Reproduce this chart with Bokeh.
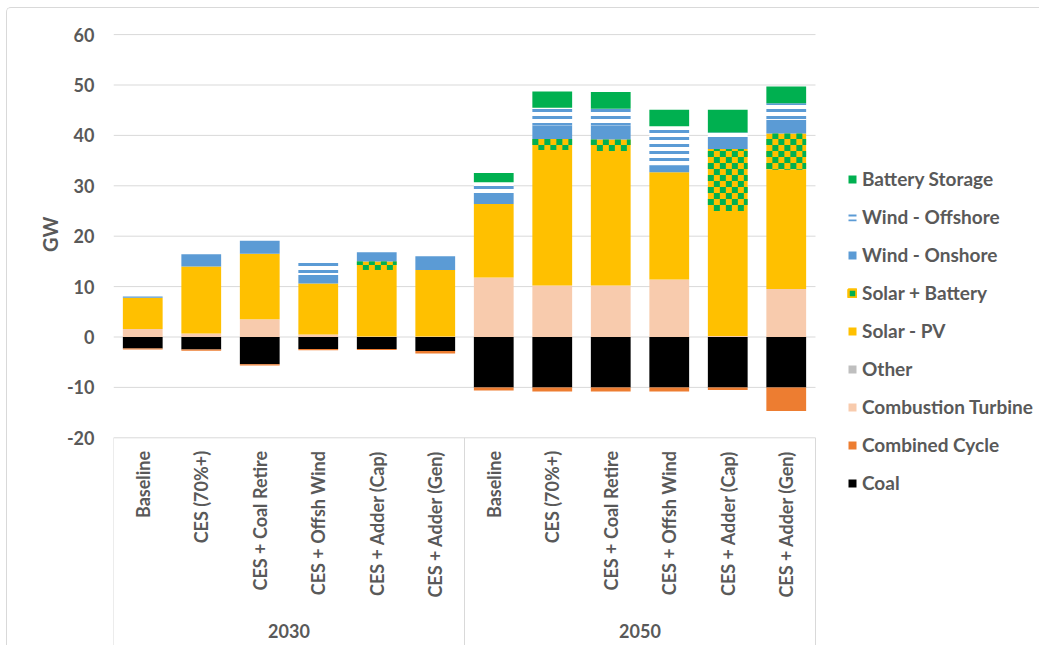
import numpy as np
from math import pi, floor, ceil
from bokeh.plotting import figure
from bokeh.models import (ColumnDataSource, Range1d, FixedTicker, Legend, LegendItem, Title)
from bokeh.core.properties import value
from bokeh.embed import file_html
from bokeh.resources import INLINE

# ---------------- data ----------------
years = ["2030", "2050"]
scenarios = ["Baseline", "CES (70%+)", "CES + Coal Retire", "CES + Offsh Wind",
             "CES + Adder (Cap)", "CES + Adder (Gen)"]

coal     = [-2.3, -2.5, -5.4, -2.4, -2.4, -2.8, -10.0, -10.0, -10.0, -10.0, -10.0, -10.0]
combined = [-0.2, -0.25, -0.25, -0.25, -0.2, -0.45, -0.6, -0.8, -0.8, -0.8, -0.5, -4.7]
combust  = [1.6, 0.7, 3.5, 0.5, 0.1, 0.1, 11.8, 10.2, 10.2, 11.4, 0.2, 9.5]
other    = [0, 0, 0, 0, 0, 0, 0, 0, 0, 0, 0, 0]
solar_pv = [6.2, 13.3, 13.0, 10.1, 13.2, 13.2, 14.6, 26.9, 26.7, 21.3, 24.8, 23.7]
solar_bat= [0, 0, 0, 0, 1.7, 0, 0, 2.2, 2.3, 0, 12.3, 7.2]
onshore  = [0.25, 2.4, 2.6, 1.7, 1.8, 2.7, 1.95, 2.7, 2.8, 1.3, 1.8, 2.7]
offshore = [0, 0, 0, 2.4, 0, 0, 2.35, 3.5, 3.3, 7.8, 1.5, 3.3]
battery  = [0, 0, 0, 0, 0, 0, 1.85, 3.2, 3.3, 3.3, 4.5, 3.3]

y_ticks = [-20, -10, 0, 10, 20, 30, 40, 50, 60]

# ---------------- layout ----------------
OX, OY = 7, 8                      # page offset of the canvas (margin + border)
W, H = 1040 - OX, 646 - OY
LEFT, TOP = 113 - OX, 20 - OY
PLOT_W = 702                       # width of the bar area in px
n_groups = len(years)
n_per = len(scenarios)
n = n_groups * n_per
PPX = PLOT_W / n                   # px per category
x_end = (W - LEFT) / PPX
PPU = 5.04                         # px per GW
y_end = 60 + (34.1 - 20) / PPU
y_start = -20 - (646 - 437.3) / PPU

GREY = "#595959"
GRID = "#D9D9D9"
FONT = "Lato"
GREEN = "#00B050"
YELLOW = "#FFC000"
BLUE = "#5B9BD5"

p = figure(width=W, height=H, output_backend="svg", toolbar_location=None,
           x_range=Range1d(0, x_end), y_range=Range1d(y_start, y_end),
           x_axis_location=None, min_border_left=LEFT, min_border_right=0,
           min_border_top=TOP, min_border_bottom=0,
           styles={"margin-left": "6px", "margin-top": "7px",
                   "border-left": "1px solid #D9D9D9", "border-top": "1px solid #D9D9D9",
                   "border-top-left-radius": "5px"})
p.outline_line_color = None
p.xgrid.visible = False
p.ygrid.visible = False

ax = p.yaxis[0]
ax.ticker = FixedTicker(ticks=y_ticks)
ax.major_label_overrides = {t: str(t) for t in y_ticks}
ax.axis_line_color = None
ax.major_tick_line_color = None
ax.minor_tick_line_color = None
ax.major_tick_out = 0
ax.major_tick_in = 0
ax.major_label_standoff = 19
ax.major_label_text_font = FONT
ax.major_label_text_font_style = "bold"
ax.major_label_text_font_size = "18px"
ax.major_label_text_color = GREY

# y axis title placed along the left side
p.add_layout(Title(text="GW", align="right", offset=196, text_font=FONT,
                   text_font_style="bold", text_font_size="20px", text_color=GREY,
                   standoff=4), "left")

# gridlines within the bar area
p.segment(x0=0, x1=n, y0=y_ticks, y1=y_ticks, line_color=GRID, line_width=1)
# category separators below the axis
seps = [g * n_per for g in range(n_groups + 1)]
p.segment(x0=seps, x1=seps, y0=-20, y1=y_start, line_color=GRID, line_width=1)

x = np.arange(n) + 0.5
BW = 0.68

renderers = {}

# negative stack
base = np.zeros(n)
for vals, name, col in [(coal, "Coal", "#000000"), (combined, "Combined Cycle", "#ED7D31")]:
    v = np.array(vals, dtype=float)
    src = ColumnDataSource(dict(x=x, top=base, bottom=base + v))
    renderers[name] = p.vbar(x="x", top="top", bottom="bottom", width=BW, source=src,
                             fill_color=col, line_color=None)
    base = base + v

# positive stack
pos = [
    (combust, "Combustion Turbine", dict(fill_color="#F8CBAD")),
    (other, "Other", dict(fill_color="#BFBFBF")),
    (solar_pv, "Solar - PV", dict(fill_color=YELLOW)),
    (solar_bat, "Solar + Battery", dict(fill_color=YELLOW)),
    (onshore, "Wind - Onshore", dict(fill_color=BLUE)),
    (offshore, "Wind - Offshore", dict(fill_color="#FFFFFF", hatch_pattern="horizontal_line",
                                       hatch_scale=7, hatch_weight=3, hatch_color=BLUE)),
    (battery, "Battery Storage", dict(fill_color=GREEN)),
]
base = np.zeros(n)
bounds = {}
for vals, name, style in pos:
    v = np.array(vals, dtype=float)
    src = ColumnDataSource(dict(x=x, bottom=base, top=base + v))
    renderers[name] = p.vbar(x="x", top="top", bottom="bottom", width=BW, source=src,
                             line_color=None, **style)
    bounds[name] = (base.copy(), base + v)
    base = base + v

# checker pattern of the "Solar + Battery" segments (6 px cells)
cw, ch = 6 / PPX, 6 / PPU
sb_bot, sb_top = bounds["Solar + Battery"]
cl, cr, cb, ct_ = [], [], [], []
for i in range(n):
    b, t = sb_bot[i], sb_top[i]
    if t - b <= 0:
        continue
    left, right = x[i] - BW / 2, x[i] + BW / 2
    ncol = int(ceil((right - left) / cw))
    for j in range(int(floor(b / ch)), int(ceil(t / ch))):
        for k in range(ncol):
            if (j + k) % 2:
                continue
            l0, r0 = left + k * cw, min(left + (k + 1) * cw, right)
            b0, t0 = max(j * ch, b), min((j + 1) * ch, t)
            if t0 > b0 and r0 > l0:
                cl.append(l0); cr.append(r0); cb.append(b0); ct_.append(t0)
p.quad(left=cl, right=cr, bottom=cb, top=ct_, fill_color=GREEN, line_color=None)

# legend proxies (swatches only)
sb_proxy = p.vbar(x=[0.5], top=[0], bottom=[0], width=0.0, fill_color=GREEN,
                  line_color=YELLOW, line_width=2.5)
off_proxy = p.vbar(x=[0.5], top=[0], bottom=[0], width=0.0, fill_color="#FFFFFF",
                   line_color=None, hatch_pattern="horizontal_line", hatch_scale=5,
                   hatch_weight=2, hatch_color=BLUE)

# category labels
labels = scenarios * n_groups
lab_src = ColumnDataSource(dict(x=x, y=np.full(n, -22.6), t=labels))
p.text(x="x", y="y", text="t", source=lab_src, angle=pi / 2, text_align="right",
       text_baseline="middle", text_font=value(FONT), text_font_style="bold",
       text_font_size="18px", text_color=GREY)

yr_src = ColumnDataSource(dict(x=[(g + 0.5) * n_per for g in range(n_groups)],
                               y=[-58.4] * n_groups, t=years))
p.text(x="x", y="y", text="t", source=yr_src, text_align="center",
       text_baseline="middle", text_font=value(FONT), text_font_style="bold",
       text_font_size="18px", text_color=GREY)

order = ["Battery Storage", "Wind - Offshore", "Wind - Onshore", "Solar + Battery",
         "Solar - PV", "Other", "Combustion Turbine", "Combined Cycle", "Coal"]
proxies = {"Solar + Battery": sb_proxy, "Wind - Offshore": off_proxy}
items = [LegendItem(label=k, renderers=[proxies.get(k, renderers.get(k))]) for k in order]
legend = Legend(items=items, location=(734, 152), orientation="vertical",
                border_line_color=None, background_fill_alpha=0,
                padding=0, margin=0, spacing=15, label_height=23,
                glyph_width=10, glyph_height=10, label_standoff=5,
                label_text_font=FONT, label_text_font_style="bold",
                label_text_font_size="19px", label_text_color=GREY,
                label_text_baseline="middle")
p.add_layout(legend)

open("out.html", "w").write(file_html(p, INLINE))
